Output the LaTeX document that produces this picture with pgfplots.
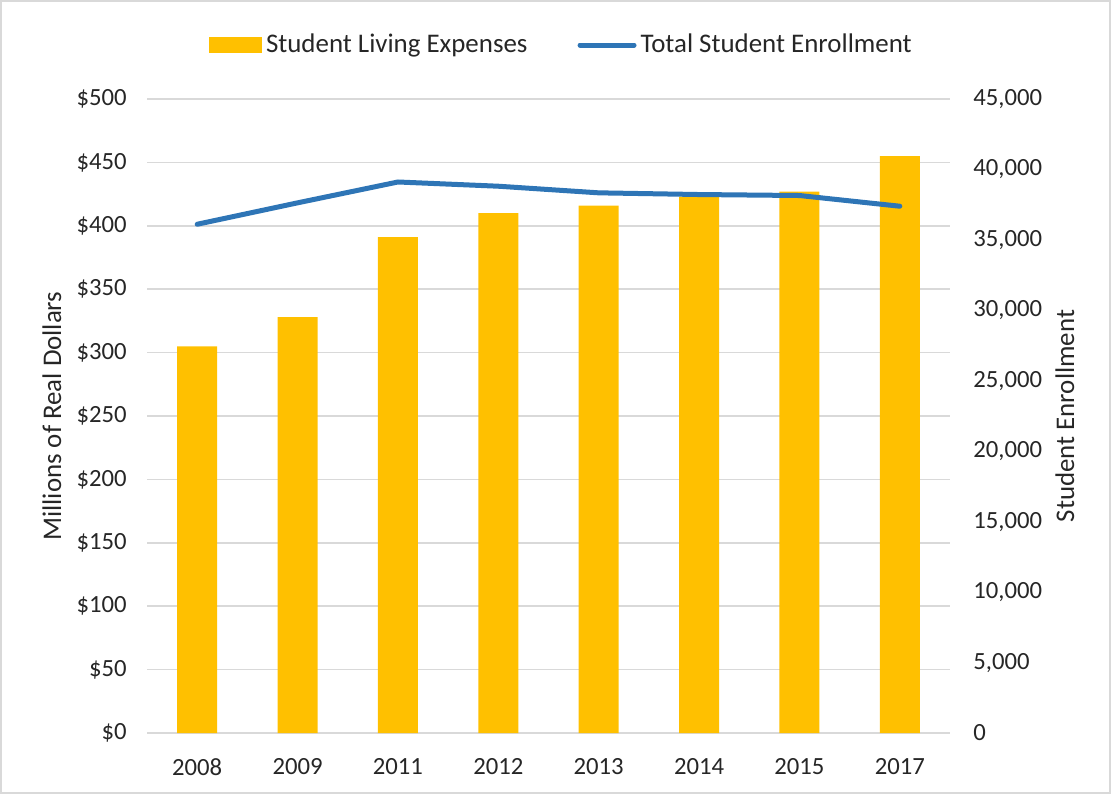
\documentclass[border=0pt]{standalone}
\usepackage{fontspec}
\setmainfont{Carlito}
\usepackage{pgfplots}
\pgfplotsset{compat=1.18}
\definecolor{baryellow}{HTML}{FFC000}
\definecolor{lineblue}{HTML}{2E75B6}
\definecolor{gridgray}{HTML}{D9D9D9}
\definecolor{txt}{HTML}{262626}
\newcommand\labfont{\fontsize{13.45}{16}\selectfont}
\begin{document}
\fontsize{12.35}{14.8}\selectfont
\begin{tikzpicture}
\path[use as bounding box] (0,0) rectangle (555.5pt,397pt);
\draw[gridgray, line width=1pt] (0.5pt,0.5pt) rectangle (555pt,396.5pt);
\begin{axis}[
  at={(73.5pt,30.5pt)}, anchor=south west,
  scale only axis, width=401.5pt, height=317pt,
  xmin=-0.5, xmax=7.5, ymin=0, ymax=500,
  xtick={0,...,7}, xticklabels={2008,2009,2011,2012,2013,2014,2015,2017},
  ytick={0,50,...,500},
  yticklabel={\$\pgfmathprintnumber{\tick}},
  /pgf/number format/assume math mode=true,
  ymajorgrids, grid style={gridgray, line width=0.8pt},
  axis x line*=bottom, axis y line*=left,
  x axis line style={gridgray, line width=0.8pt, -},
  y axis line style={draw=none},
  major tick length=0pt, tick style={draw=none},
  yticklabel style={anchor=east, inner sep=0pt, xshift=-10pt, text=txt},
  xticklabel style={anchor=north, inner sep=0pt, yshift=-12.5pt, text=txt},
  ylabel={Millions of Real Dollars},
  ylabel style={at={(axis description cs:-0.1183,0.5)}, anchor=center, text=txt, font=\labfont},
  ybar, bar width=20pt,
]
\addplot[fill=baryellow, draw=none] coordinates {
(0,305) (1,328) (2,391) (3,410) (4,416) (5,423) (6,427) (7,455)};
\end{axis}
\begin{axis}[
  at={(73.5pt,30.5pt)}, anchor=south west,
  scale only axis, width=401.5pt, height=317pt,
  xmin=-0.5, xmax=7.5, ymin=0, ymax=45000,
  axis x line=none, axis y line*=right,
  y axis line style={draw=none},
  ytick={0,5000,...,45000},
  /pgf/number format/assume math mode=true,
  /pgf/number format/1000 sep={,},
  scaled y ticks=false,
  major tick length=0pt, tick style={draw=none},
  yticklabel style={anchor=west, inner sep=0pt, xshift=11.5pt, text=txt},
  ylabel={Student Enrollment},
  ylabel style={at={(axis description cs:1.1432,0.5)}, anchor=center, rotate=0, text=txt, font=\labfont},
  legend columns=2,
  legend style={at={(axis description cs:0.5,1)}, anchor=center, yshift=27pt, xshift=6.5pt,
    draw=none, fill=none, font=\labfont, text=txt,
    /tikz/every odd column/.append style={column sep=1pt},
    /tikz/every even column/.append style={column sep=24pt},
    nodes={inner sep=1pt}},
]
\addlegendimage{legend image code/.code={\fill[baryellow] (0pt,-3.75pt) rectangle (26pt,3.75pt);}}
\addlegendentry{Student Living Expenses}
\addplot[lineblue, line width=2.5pt, line join=round, line cap=round, mark=none,
  legend image code/.code={\draw[lineblue, line width=2.5pt, line cap=round] (0pt,0pt) -- (27pt,0pt);}]
  coordinates {
(0,36110) (1,37630) (2,39110) (3,38810) (4,38340) (5,38220) (6,38150) (7,37390)};
\addlegendentry{Total Student Enrollment}
\end{axis}
\end{tikzpicture}
\end{document}
